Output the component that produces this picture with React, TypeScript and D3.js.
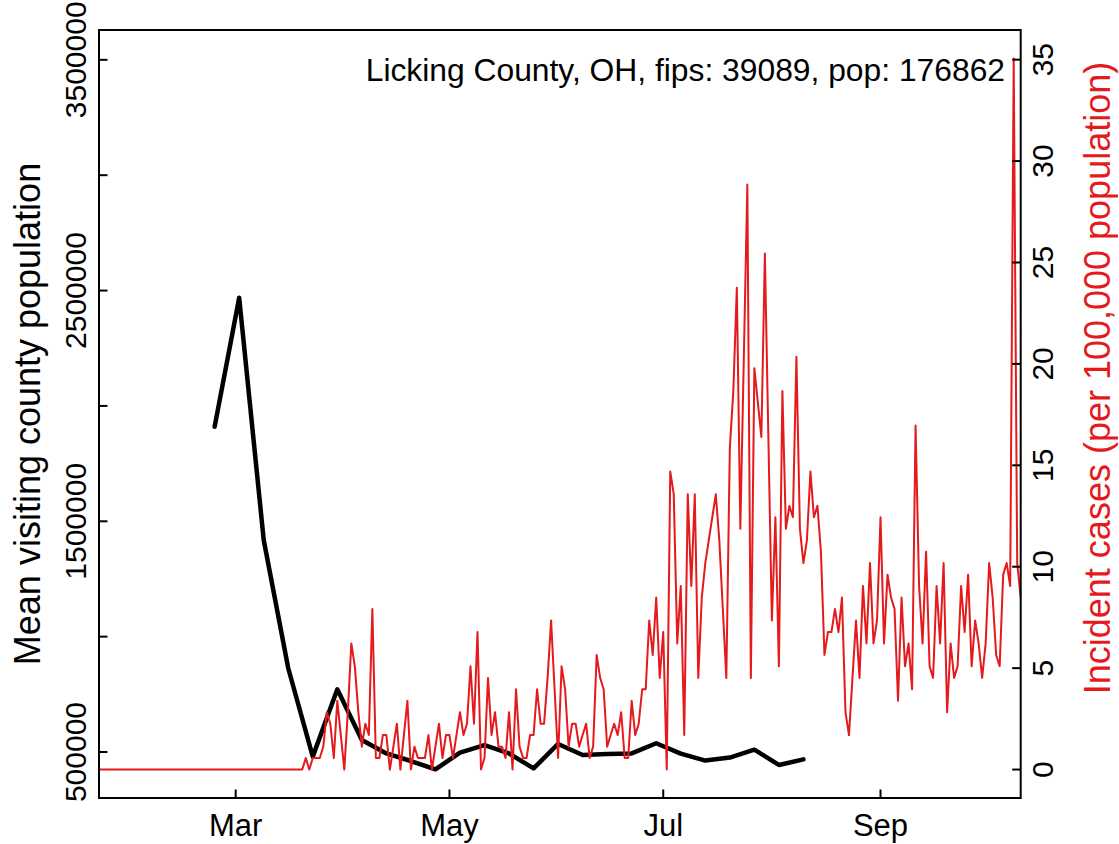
import React from "react";
import * as d3 from "d3";

// ---------------- data ----------------
const incidenceStart = "2020-01-22"; // first day of the daily incidence series
// Daily incident cases per 100,000 population (Licking County, OH)
const incidence: number[] = [
  0, 0, 0, 0, 0, 0, 0, 0, 0, 0,
  0, 0, 0, 0, 0, 0, 0, 0, 0, 0,
  0, 0, 0, 0, 0, 0, 0, 0, 0, 0,
  0, 0, 0, 0, 0, 0, 0, 0, 0, 0,
  0, 0, 0, 0, 0, 0, 0, 0, 0, 0,
  0, 0, 0, 0, 0, 0, 0, 0, 0, 0.57,
  0, 0.57, 0.57, 0.57, 1.13, 2.83, 2.26, 0.57, 3.39, 1.7,
  0, 2.83, 6.22, 5.09, 2.83, 1.13, 2.26, 1.7, 7.92, 0.57,
  0.57, 1.7, 1.7, 0, 1.13, 2.26, 0, 1.7, 3.39, 0,
  1.13, 0.57, 0.57, 0.57, 1.7, 0, 1.13, 2.26, 0.57, 1.7,
  1.7, 0.57, 1.7, 2.83, 1.7, 2.26, 5.09, 2.26, 6.78, 0,
  0.57, 4.52, 1.7, 2.83, 1.13, 1.13, 0.57, 2.83, 0, 3.96,
  1.13, 0.57, 0.57, 1.7, 1.7, 3.96, 2.26, 2.26, 4.52, 7.35,
  3.96, 0.57, 5.09, 3.96, 1.13, 2.26, 2.26, 1.13, 1.7, 2.26,
  0.57, 1.13, 5.65, 4.52, 3.96, 1.13, 1.7, 2.26, 1.7, 2.83,
  0.57, 0.57, 3.39, 1.7, 2.26, 3.96, 3.96, 7.35, 5.65, 8.48,
  4.52, 6.78, 0, 14.7, 13.57, 6.22, 9.05, 1.7, 13.57, 9.05,
  13.57, 4.52, 8.48, 10.18, 11.31, 12.44, 13.57, 11.31, 7.92, 4.52,
  15.83, 18.66, 23.75, 11.87, 20.35, 28.84, 4.52, 19.79, 18.09, 16.4,
  25.44, 16.4, 7.35, 12.44, 5.09, 18.66, 11.87, 13.0, 12.44, 20.35,
  11.87, 10.18, 11.31, 14.7, 12.44, 13.0, 10.74, 5.65, 6.78, 6.78,
  7.92, 6.78, 8.48, 2.83, 1.7, 4.52, 7.35, 4.52, 9.05, 6.22,
  10.18, 6.22, 7.35, 12.44, 6.22, 9.61, 8.48, 7.92, 3.39, 8.48,
  5.09, 6.22, 3.96, 16.96, 9.05, 6.22, 10.74, 5.09, 4.52, 9.05,
  6.22, 10.18, 2.83, 6.22, 4.52, 5.09, 9.05, 6.78, 9.61, 5.09,
  7.35, 6.22, 4.52, 6.22, 10.18, 8.48, 5.65, 5.09, 9.61, 10.18,
  9.05, 35.06, 10.18, 8.48,
];

// Weekly mean visiting county population
const visitWeeks: string[] = [
  "2020-02-24", "2020-03-02", "2020-03-09", "2020-03-16", "2020-03-23",
  "2020-03-30", "2020-04-06", "2020-04-13", "2020-04-20", "2020-04-27",
  "2020-05-04", "2020-05-11", "2020-05-18", "2020-05-25", "2020-06-01",
  "2020-06-08", "2020-06-15", "2020-06-22", "2020-06-29", "2020-07-06",
  "2020-07-13", "2020-07-20", "2020-07-27", "2020-08-03", "2020-08-10",
];
const visitValues: number[] = [
  1910000, 2469000, 1419000, 863000, 480000,
  772000, 552000, 494000, 461000, 425000,
  497000, 530000, 494000, 429000, 535000,
  487000, 491000, 494000, 538000, 493000,
  463000, 476000, 510000, 444000, 468000,
];

const leftTicks: number[] = [500000, 1000000, 1500000, 2000000, 2500000, 3000000, 3500000];
const leftTickLabels: string[] = ["500000", "", "1500000", "", "2500000", "", "3500000"];
const rightTicks: number[] = [0, 5, 10, 15, 20, 25, 30, 35];
const monthTicks: string[] = ["2020-03-01", "2020-05-01", "2020-07-01", "2020-09-01"];
const monthLabels: string[] = ["Mar", "May", "Jul", "Sep"];
const leftLimits: number[] = [424000, 3506000];

const annotation = "Licking County, OH, fips: 39089, pop: 176862";
const leftTitle = "Mean visiting county population";
const rightTitle = "Incident cases (per 100,000 population)";

// ---------------- layout ----------------
const W = 1119;
const H = 844;
const plot = { left: 99, right: 1020.7, top: 30, bottom: 798 };
const RED = "#e41a1c";
const FONT = "'Liberation Sans', Arial, Helvetica, sans-serif";
const TICK = 8.5;

const parse = d3.timeParse("%Y-%m-%d");

export default function App() {
  const start = parse(incidenceStart)!;
  const incDates = incidence.map((_, i) => d3.timeDay.offset(start, i));
  const x = d3
    .scaleTime()
    .domain([incDates[0], incDates[incDates.length - 1]])
    .range([plot.left, plot.right]);

  const pad = (lo: number, hi: number) => {
    const r = hi - lo;
    return [lo - 0.04 * r, hi + 0.04 * r];
  };
  const yL = d3
    .scaleLinear()
    .domain(pad(leftLimits[0], leftLimits[1]))
    .range([plot.bottom, plot.top]);
  const yR = d3
    .scaleLinear()
    .domain(pad(0, d3.max(incidence)!))
    .range([plot.bottom, plot.top]);

  const redLine = d3
    .line<number>()
    .x((_, i) => x(incDates[i]))
    .y((d) => yR(d))(incidence)!;

  const blackLine = d3
    .line<number>()
    .x((_, i) => x(parse(visitWeeks[i])!))
    .y((d) => yL(d))(visitValues)!;

  const midY = (plot.top + plot.bottom) / 2;

  return (
    <svg
      width={W}
      height={H}
      style={{ position: "absolute", left: 0, top: 0, background: "#fff" }}
      fontFamily={FONT}
    >
      <defs>
        <clipPath id="plotclip">
          <rect x={plot.left} y={plot.top} width={plot.right - plot.left} height={plot.bottom - plot.top} />
        </clipPath>
      </defs>
      <rect x={0} y={0} width={W} height={H} fill="#fff" />

      {/* data */}
      <g clipPath="url(#plotclip)">
        <path d={blackLine} fill="none" stroke="#000" strokeWidth={4.5} strokeLinejoin="round" strokeLinecap="round" />
        <path d={redLine} fill="none" stroke={RED} strokeWidth={2} strokeLinejoin="round" />
      </g>

      {/* box */}
      <rect
        x={plot.left}
        y={plot.top}
        width={plot.right - plot.left}
        height={plot.bottom - plot.top}
        fill="none"
        stroke="#000"
        strokeWidth={2}
      />

      {/* x axis */}
      {monthTicks.map((m, i) => {
        const xx = x(parse(m)!);
        return (
          <g key={m}>
            <line x1={xx} x2={xx} y1={plot.bottom} y2={plot.bottom - TICK} stroke="#000" strokeWidth={2} />
            <text x={xx} y={836} textAnchor="middle" fontSize={31}>
              {monthLabels[i]}
            </text>
          </g>
        );
      })}

      {/* left axis */}
      {leftTicks.map((t, i) => {
        const yy = yL(t);
        return (
          <g key={t}>
            <line x1={plot.left} x2={plot.left + TICK} y1={yy} y2={yy} stroke="#000" strokeWidth={2} />
            {leftTickLabels[i] && (
              <text transform={`translate(86,${yy}) rotate(-90)`} textAnchor="middle" fontSize={30}>
                {leftTickLabels[i]}
              </text>
            )}
          </g>
        );
      })}
      <text transform={`translate(40,${midY}) rotate(-90)`} textAnchor="middle" fontSize={36}>
        {leftTitle}
      </text>

      {/* right axis */}
      {rightTicks.map((t) => {
        const yy = yR(t);
        return (
          <g key={t}>
            <line x1={plot.right} x2={plot.right - TICK} y1={yy} y2={yy} stroke="#000" strokeWidth={2} />
            <text transform={`translate(1053,${yy}) rotate(-90)`} textAnchor="middle" fontSize={30}>
              {t}
            </text>
          </g>
        );
      })}
      <text transform={`translate(1110,378) rotate(-90)`} textAnchor="middle" fontSize={36} fill={RED}>
        {rightTitle}
      </text>

      {/* annotation */}
      <text x={1005} y={81} textAnchor="end" fontSize={31.8}>
        {annotation}
      </text>
    </svg>
  );
}
